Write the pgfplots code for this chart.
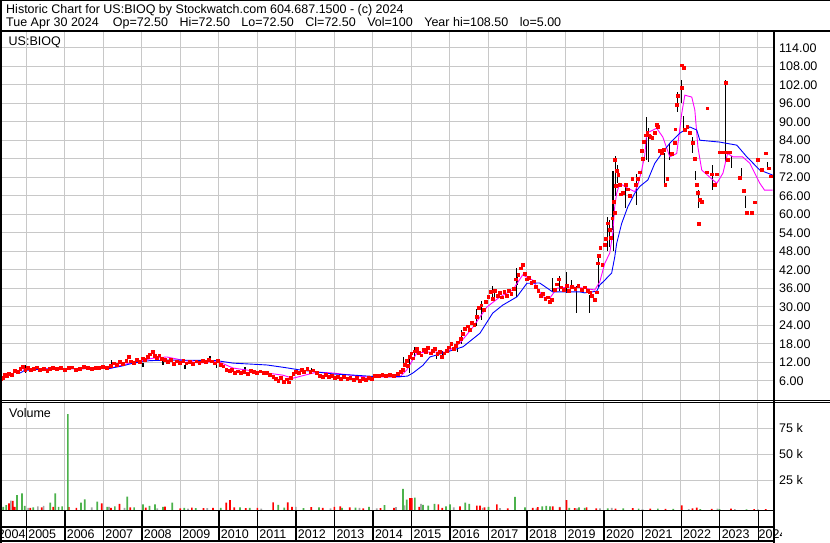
\documentclass[border=0pt]{standalone}
\usepackage{pgfplots}
\pgfplotsset{compat=1.18}
\usepackage{fontspec}
\setmainfont{Liberation Sans}
\definecolor{gridc}{RGB}{200,200,200}
\definecolor{volgreen}{RGB}{76,178,76}
\definecolor{volgray}{RGB}{165,165,165}
\definecolor{mag}{RGB}{255,0,255}

\pgfplotstableread{
x y
2004.35 6.6
2004.40 6.9
2004.45 7.8
2004.50 7.5
2004.55 8.3
2004.62 7.9
2004.70 9.2
2004.78 8.7
2004.85 9.8
2004.92 10.4
2004.98 9.6
2005.05 10.0
2005.12 9.5
2005.20 9.9
2005.28 10.3
2005.36 9.6
2005.45 9.9
2005.55 9.2
2005.62 9.7
2005.70 10.2
2005.80 9.8
2005.90 10.1
2006.00 9.5
2006.10 10.0
2006.20 10.3
2006.30 9.6
2006.40 9.9
2006.50 10.4
2006.60 10.0
2006.70 9.7
2006.80 10.2
2006.90 10.0
2007.00 10.5
2007.10 10.2
2007.20 10.8
2007.28 11.6
2007.36 11.0
2007.44 12.0
2007.52 11.3
2007.60 12.5
2007.66 13.6
2007.72 12.2
2007.80 11.8
2007.88 12.8
2007.95 12.0
2008.02 13.2
2008.08 12.6
2008.15 13.8
2008.22 14.5
2008.28 15.2
2008.34 14.0
2008.40 13.4
2008.46 14.2
2008.52 13.0
2008.60 12.6
2008.68 12.0
2008.76 12.6
2008.84 11.5
2008.92 12.2
2009.00 11.8
2009.08 12.3
2009.16 11.6
2009.25 12.0
2009.33 11.4
2009.42 12.2
2009.50 11.8
2009.58 12.4
2009.66 12.0
2009.74 12.6
2009.82 12.2
2009.90 11.6
2009.97 12.5
2010.05 11.2
2010.12 10.6
2010.20 9.6
2010.28 9.2
2010.35 9.6
2010.42 8.6
2010.50 9.0
2010.58 8.5
2010.66 8.9
2010.75 8.3
2010.84 9.1
2010.92 8.8
2011.00 8.5
2011.08 9.0
2011.16 8.4
2011.25 8.6
2011.33 7.8
2011.42 7.2
2011.48 6.6
2011.55 6.0
2011.62 6.8
2011.70 5.7
2011.76 6.4
2011.82 5.4
2011.88 6.9
2011.94 8.2
2012.00 8.7
2012.08 8.4
2012.15 9.4
2012.22 8.9
2012.30 9.8
2012.38 8.8
2012.46 9.3
2012.55 8.4
2012.62 7.6
2012.70 7.3
2012.78 7.8
2012.86 7.1
2012.94 7.5
2013.02 7.0
2013.10 7.3
2013.18 6.6
2013.26 7.2
2013.34 6.5
2013.42 6.9
2013.50 6.3
2013.58 6.8
2013.66 6.0
2013.74 6.5
2013.82 6.2
2013.90 7.0
2013.98 6.6
2014.06 7.4
2014.15 7.6
2014.25 7.8
2014.35 7.5
2014.45 7.9
2014.55 7.6
2014.65 8.2
2014.72 8.8
2014.78 9.6
2014.84 11.0
2014.88 12.5
2014.92 10.8
2014.96 13.6
2015.00 14.8
2015.05 13.2
2015.10 15.5
2015.15 16.4
2015.20 15.0
2015.26 14.2
2015.32 16.0
2015.38 15.2
2015.44 16.6
2015.50 14.8
2015.56 15.6
2015.62 16.2
2015.68 14.6
2015.74 15.4
2015.80 13.8
2015.86 14.8
2015.92 15.6
2015.98 16.8
2016.04 17.8
2016.10 16.4
2016.16 17.2
2016.22 18.4
2016.28 19.6
2016.34 21.2
2016.40 22.8
2016.46 23.6
2016.52 22.4
2016.58 24.8
2016.64 24.0
2016.70 26.6
2016.76 29.5
2016.82 30.4
2016.88 29.0
2016.94 31.6
2017.00 33.2
2017.06 34.8
2017.12 32.4
2017.18 35.2
2017.24 33.6
2017.30 34.4
2017.36 33.0
2017.42 34.8
2017.48 33.6
2017.54 35.0
2017.60 34.2
2017.66 35.8
2017.72 38.8
2017.78 40.2
2017.84 42.4
2017.89 43.4
2017.94 40.6
2018.00 38.8
2018.06 39.4
2018.12 37.6
2018.18 38.2
2018.24 36.4
2018.30 35.2
2018.36 33.6
2018.42 34.2
2018.48 32.4
2018.54 33.0
2018.60 31.4
2018.66 32.2
2018.72 35.4
2018.78 37.2
2018.84 38.8
2018.90 36.2
2018.96 35.4
2019.04 36.6
2019.10 35.2
2019.18 36.4
2019.26 35.8
2019.34 36.8
2019.42 35.4
2019.50 36.2
2019.58 35.0
2019.64 34.6
2019.70 33.4
2019.76 32.2
2019.82 34.6
2019.85 44.0
2019.88 46.4
2019.91 49.0
2019.96 43.6
2020.02 50.0
2020.06 52.0
2020.10 57.0
2020.15 55.0
2020.18 52.4
2020.22 58.6
2020.26 64.0
2020.28 60.4
2020.29 77.6
2020.31 69.2
2020.33 74.0
2020.38 72.7
2020.41 69.5
2020.44 66.4
2020.50 67.0
2020.58 69.5
2020.62 68.0
2020.68 66.0
2020.74 71.3
2020.84 69.5
2020.88 71.5
2020.94 73.5
2020.99 80.5
2021.02 78.0
2021.05 83.5
2021.09 85.5
2021.13 86.4
2021.17 85.5
2021.21 85.0
2021.26 84.6
2021.32 86.4
2021.37 89.0
2021.40 88.2
2021.45 80.5
2021.50 79.8
2021.56 80.8
2021.60 69.5
2021.65 71.3
2021.76 79.5
2021.84 83.0
2021.86 87.5
2021.90 95.5
2021.93 98.4
2022.02 101.0
2022.03 108.2
2022.07 107.5
2022.10 87.3
2022.17 88.4
2022.23 86.4
2022.31 83.0
2022.36 78.0
2022.41 69.5
2022.44 66.9
2022.46 56.7
2022.49 64.6
2022.54 64.0
2022.67 73.5
2022.69 94.3
2022.80 72.9
2022.88 69.5
2022.93 72.9
2023.01 80.0
2023.09 80.0
2023.16 102.6
2023.19 80.0
2023.22 77.6
2023.27 80.0
2023.54 71.8
2023.64 67.5
2023.72 60.3
2023.85 60.3
2023.93 63.8
2024.00 77.6
2024.10 74.3
2024.20 79.7
2024.28 74.8
2024.33 72.2
}\closes

\pgfplotstableread{
x m e
2004.97 9.8 1.3
2007.22 11.75 0.95
2008.03 11.05 0.65
2008.55 11.9 0.8
2009.12 10.45 0.65
2009.77 13.3 0.7
2009.95 11.0 1.0
2010.68 9.55 0.85
2012.31 9.95 0.45
2012.41 9.6 0.4
2014.79 12.05 1.65
2014.96 11.1 2.6
2015.09 15.35 1.65
2015.66 13.85 0.85
2015.81 14.65 1.05
2016.20 16.15 0.85
2016.31 20.3 2.3
2016.70 26.4 2.8
2016.83 28.85 3.15
2017.11 34.85 1.85
2017.16 33.5 1.5
2017.74 37.7 4.7
2017.76 38.5 1.5
2018.67 37.1 2.3
2018.85 37.5 2.5
2019.03 37.8 3.4
2019.16 37.2 1.6
2019.29 32.35 4.35
2019.63 30.9 2.9
2019.85 41.0 5.0
2020.10 53.5 5.5
2020.14 53.8 4.3
2020.23 64.5 9.5
2020.25 61.0 13.0
2020.30 72.5 6.5
2020.36 73.0 3.0
2020.55 66.0 4.0
2020.85 68.0 5.0
2021.11 84.6 7.0
2021.16 82.5 5.5
2021.58 75.0 5.0
2021.71 80.3 2.7
2021.92 96.3 3.3
2022.02 99.8 3.8
2022.07 90.0 2.0
2022.31 82.5 2.5
2022.38 72.5 1.5
2022.46 65.0 3.0
2022.82 72.0 4.0
2023.16 90.25 13.25
2023.32 77.0 2.0
2023.58 73.5 1.5
2023.68 64.0 2.0
2024.25 76.0 1.0
}\wicks

\pgfplotstableread{
x y
2004.84 8.5
2004.95 9.3
2005.30 9.7
2006.00 9.9
2007.17 10.0
2007.50 10.8
2007.77 11.7
2008.20 12.5
2008.65 12.7
2009.50 12.6
2009.95 12.5
2010.37 11.7
2011.25 11.1
2011.70 10.3
2012.10 9.5
2012.96 8.2
2013.50 7.8
2014.00 7.4
2014.70 7.3
2014.90 7.5
2015.04 8.5
2015.30 11.0
2015.48 13.7
2015.92 15.3
2016.34 17.0
2016.78 21.4
2017.11 27.9
2017.37 30.5
2017.74 33.2
2018.00 37.6
2018.33 37.7
2018.67 34.8
2019.37 34.8
2019.50 34.5
2019.81 35.0
2019.89 37.0
2020.02 38.6
2020.20 40.9
2020.28 46.1
2020.33 50.5
2020.46 57.0
2020.62 62.4
2020.80 66.8
2020.93 69.0
2021.14 71.1
2021.32 76.5
2021.53 80.2
2021.71 83.0
2021.97 86.3
2022.23 88.3
2022.41 87.3
2022.49 84.0
2023.00 83.4
2023.45 82.4
2023.71 78.6
2024.05 74.3
2024.38 72.7
}\malong

\pgfplotstableread{
x y
2004.91 9.5
2005.30 9.8
2006.50 9.9
2007.17 10.0
2007.77 12.0
2008.29 13.3
2008.65 13.7
2009.00 12.8
2009.50 11.7
2009.95 12.4
2010.37 10.1
2011.25 8.5
2011.66 7.8
2011.92 6.8
2012.55 8.8
2012.96 8.5
2013.84 7.2
2014.70 7.2
2014.88 9.5
2015.14 15.0
2015.48 15.3
2015.92 15.3
2016.26 18.2
2016.60 23.4
2016.96 29.9
2017.30 33.2
2017.63 35.4
2017.89 40.3
2018.15 38.6
2018.41 33.2
2018.59 32.7
2018.78 36.0
2019.19 36.4
2019.50 36.0
2019.76 35.4
2019.89 38.0
2020.02 44.0
2020.15 47.4
2020.23 54.0
2020.28 62.4
2020.33 66.8
2020.41 70.0
2020.62 68.4
2020.80 67.3
2020.88 69.5
2020.98 74.3
2021.06 79.2
2021.11 86.3
2021.37 87.9
2021.53 85.0
2021.71 78.6
2021.89 79.7
2022.02 92.7
2022.10 98.6
2022.28 98.0
2022.36 93.8
2022.44 81.8
2022.54 74.3
2022.75 72.0
2022.93 70.0
2023.09 73.3
2023.21 79.7
2023.35 78.6
2023.60 78.6
2023.79 76.5
2024.05 70.0
2024.17 67.8
2024.38 67.8
}\mashort

\pgfplotstableread{
x v
2004.40 3000
2004.48 4800
2004.76 14400
2004.89 16000
2004.96 4000
2005.18 2500
2005.62 7000
2005.75 16000
2005.84 3000
2005.93 3500
2006.08 92300
2006.42 7000
2006.52 10300
2006.84 8000
2007.10 3000
2007.30 3500
2007.62 12800
2007.80 2500
2008.03 5500
2008.20 4000
2008.34 5500
2008.55 3000
2008.79 7000
2009.10 2000
2009.40 1800
2010.05 2000
2010.55 2500
2010.80 2000
2011.54 5000
2011.70 2200
2012.20 1800
2012.60 2500
2013.20 2000
2013.55 2200
2013.90 3000
2014.30 4800
2014.78 20200
2014.88 10000
2015.09 12000
2015.30 5000
2015.44 4200
2015.60 6000
2015.90 3500
2016.00 5500
2016.40 7000
2016.50 6000
2017.00 3000
2017.69 12500
2017.95 2500
2018.40 3500
2018.50 4000
2018.60 3500
2019.10 2000
2019.35 2500
2019.50 2000
2020.10 1500
2020.50 1500
2020.90 1200
2021.40 1200
2021.80 1000
2022.50 800
2023.00 800
2023.70 700
}\vgreen

\pgfplotstableread{
x v
2004.35 1800
2004.55 6400
2004.65 8700
2004.70 3000
2005.10 2000
2005.40 2500
2005.70 3000
2006.10 2800
2006.30 2000
2006.96 6400
2007.20 2000
2007.42 6000
2007.70 2500
2008.10 2200
2008.60 3200
2009.00 1500
2009.30 2400
2009.60 1800
2009.85 2000
2010.19 7000
2010.29 9600
2010.40 2500
2010.70 1800
2011.00 2000
2011.41 7300
2011.79 7300
2011.90 3000
2012.40 2800
2012.70 2000
2013.00 3000
2013.15 3600
2013.40 2500
2013.75 1500
2014.20 1800
2014.55 2000
2014.96 11500
2015.01 11300
2015.20 3000
2015.70 5500
2015.80 2000
2016.26 3500
2016.70 4200
2016.78 4200
2016.90 2500
2017.22 5500
2017.50 1500
2018.15 2000
2018.28 2800
2018.67 3500
2018.85 2500
2019.03 9600
2019.24 1800
2019.55 2500
2019.80 1500
2020.30 1200
2020.75 1800
2021.20 1200
2021.60 1000
2022.02 4500
2022.30 1500
2022.41 2200
2022.80 1000
2023.30 1200
2023.90 900
2024.20 800
}\vred

\pgfplotstableread{
x v
2004.60 9000
2005.05 2000
2005.30 3500
2005.45 4000
2006.70 2500
2007.15 3000
2007.55 2000
2008.40 1500
2009.20 1200
2009.70 1800
2011.10 1200
2012.00 3000
2012.90 1500
2013.65 2000
2014.10 1500
2014.60 2800
2014.82 4500
2015.25 6000
2016.10 2500
2016.85 2000
2017.30 1800
2018.25 1500
2018.85 3000
2019.30 1500
2019.90 1500
2020.20 2000
2021.00 900
2022.20 800
2022.95 1200
2023.40 900
2024.00 700
}\vgray

\begin{document}
\begin{tikzpicture}[x=1pt,y=1pt,font=\fontsize{12.5}{14}\selectfont]
\useasboundingbox (0,0) rectangle (830,543);
\fill[white] (0,0) rectangle (830,543);

\begin{axis}[
  at={(1pt,142pt)}, anchor=south west, scale only axis,
  width=772pt, height=369pt,
  xmin=2004.343, xmax=2024.39, ymin=-0.58, ymax=119.1,
  axis line style={draw=none}, major tick length=0pt,
  xtick={2005,...,2024}, xticklabels={},
  ytick={6,12,...,114},
  yticklabels={6.00,12.00,18.00,24.00,30.00,36.00,42.00,48.00,54.00,60.00,66.00,72.00,78.00,84.00,90.00,96.00,102.00,108.00,114.00},
  yticklabel pos=right,
  yticklabel style={anchor=west, inner sep=0pt, xshift=6pt},
  grid=major, major grid style={gridc, line width=0.9pt},
]
\addplot[black, only marks, mark=*, mark size=0pt, error bars/.cd, y dir=both, y explicit,
  error mark=none, error bar style={black, line width=1.1pt}]
  table[x=x, y=m, y error plus=e, y error minus=e] {\wicks};
\addplot[red, only marks, mark=square*, mark size=1.4pt, mark options={draw=red, fill=red, line width=0pt}] table[x=x,y=y] {\closes};
\addplot[mag, line width=0.9pt] table[x=x,y=y] {\mashort};
\addplot[blue, line width=0.9pt] table[x=x,y=y] {\malong};
\end{axis}

\begin{axis}[
  at={(1pt,33pt)}, anchor=south west, scale only axis,
  width=772pt, height=107.5pt,
  xmin=2004.343, xmax=2024.39, ymin=0, ymax=103365,
  axis line style={draw=none}, major tick length=0pt,
  xtick={2005,...,2024}, xticklabels={},
  ytick={28558,53558,78558}, yticklabels={25 k,50 k,75 k},
  scaled y ticks=false,
  yticklabel pos=right,
  yticklabel style={anchor=west, inner sep=0pt, xshift=6pt},
  grid=major, major grid style={gridc, line width=0.9pt},
]
\addplot[ybar, bar width=1.7pt, bar shift=0pt, fill=volgray, draw=none] table[x=x,y=v] {\vgray};
\addplot[ybar, bar width=1.7pt, bar shift=0pt, fill=red, draw=none] table[x=x,y=v] {\vred};
\addplot[ybar, bar width=1.7pt, bar shift=0pt, fill=volgreen, draw=none] table[x=x,y=v] {\vgreen};
\end{axis}

% frame lines
\draw[line width=1.5pt] (0,542.4) -- (830,542.4);
\draw[line width=2pt] (0,512) -- (830,512);
\draw[line width=1pt] (0,142.2) -- (830,142.2);
\draw[line width=1pt] (0,140.5) -- (830,140.5);
\draw[line width=1.4pt] (0,32.7) -- (773.5,32.7);
\draw[line width=1.4pt] (0,16) -- (773.5,16);
\draw[line width=2pt] (0,2) -- (773.5,2);
\foreach \yr in {2005,...,2024} {
  \draw[line width=1.4pt] ({26.3+(\yr-2005)*38.526},2) -- ({26.3+(\yr-2005)*38.526},32.7);
}
\begin{scope}
\clip (1,0) rectangle (781,16);
\foreach \yr in {2005,...,2023} {
  \node[anchor=base west, inner sep=0pt] at ({26.3+(\yr-2005)*38.526+1.8},4.5) {\yr};
}
\node[anchor=base west, inner sep=0pt] at (758.5,4.5) {2024};
\node[anchor=base east, inner sep=0pt] at (25.8,4.5) {2004};
\end{scope}
\draw[line width=2pt] (773.5,0) -- (773.5,512);
\draw[line width=2pt] (0.8,0) -- (0.8,543);

% texts
\node[anchor=base west, inner sep=0pt] at (6,529.5) {Historic Chart for US:BIOQ by Stockwatch.com 604.687.1500 - (c) 2024};
\node[anchor=base west, inner sep=0pt] at (6,516) {Tue Apr 30 2024\hspace{14pt}Op=72.50\hspace{11.5pt}Hi=72.50\hspace{11.5pt}Lo=72.50\hspace{11.5pt}Cl=72.50\hspace{11.5pt}Vol=100\hspace{11.5pt}Year hi=108.50\hspace{11.5pt}lo=5.00};
\node[anchor=base west, inner sep=0pt] at (8.5,497) {US:BIOQ};
\node[anchor=base west, inner sep=0pt] at (9,125.5) {Volume};
\end{tikzpicture}
\end{document}
